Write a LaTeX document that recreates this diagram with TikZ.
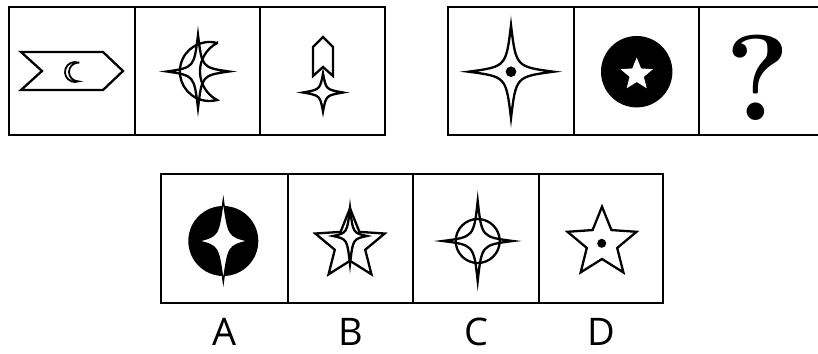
\documentclass[tikz,border=0pt]{standalone}
\usepackage{fontspec}
\newfontfamily\labelfont{Open Sans}
\usepackage{tikz}

\tikzset{
  frame/.style={line width=2.6pt},
  figure/.style={line width=2.3pt, line join=miter},
  % concave four-point star
  pics/sparkle/.style n args={3}{code={%
    \path[pic actions] (0,-#2) .. controls (#3,-#3) .. (#1,0)
      .. controls (#3,#3) .. (0,#2) .. controls (-#3,#3) .. (-#1,0)
      .. controls (-#3,-#3) .. (0,-#2) -- cycle;}},
  % five-point star, outer and inner radius
  pics/pentastar/.style 2 args={code={%
    \path[pic actions] (-90:#1) \foreach \k in {0,...,4}{
      -- ({-54+72*\k}:#2) -- ({-18+72*\k}:#1)} -- cycle;}},
}

\begin{document}
\begin{tikzpicture}[x=1pt, y=-1pt]
   \useasboundingbox (0,0) rectangle (818,353);

   % question row, left group
   \draw[frame] (9,7) rectangle (385,135);
   \foreach \x in {135,260}
   \draw[frame] (\x,7) -- (\x,135);

   \draw[figure] (21,52) -- (103,52) -- (123,71) -- (103,90) -- (21,90) -- (42,71) -- cycle;
   \draw[line width=1.8pt] (78.4,62.6) arc[start angle=-70, end angle=-290, radius=10]
      arc[start angle=90, end angle=270, radius=9.4] -- cycle;

   \pic[figure, draw] at (198,71.5) {sparkle={31}{36.5}{4}};
   \draw[figure] (217,43) arc[start angle=-75, end angle=-285, radius=29.5]
      arc[start angle=118.4, end angle=241.6, radius=32.4] -- cycle;

   \draw[figure] (323,37) -- (333,47) -- (333,76) -- (323,67) -- (313,76) -- (313,47) -- cycle;
   \pic[figure, draw] at (323,92.5) {sparkle={20}{19}{3}};

   % question row, right group (runs off the page)
   \draw[frame] (448,7) rectangle (826,135);
   \foreach \x in {574,699}
   \draw[frame] (\x,7) -- (\x,135);

   \pic[figure, draw] at (511,71.7) {sparkle={42.5}{46.5}{5}};
   \fill (511,71.7) circle[radius=5.3];

   \fill (636.7,71.7) circle[radius=35.7];
   \pic[fill=white] at (636.7,74.5) {pentastar={17}{7.5}};

   \node (qmark) at (758,120) [anchor=base, inner sep=0pt,
      font=\bfseries\fontsize{122}{122}\selectfont] {?};

   % answer row
   \draw[frame] (161,174) rectangle (663,303);
   \foreach \x in {288,413,539}
   \draw[frame] (\x,174) -- (\x,303);

   \fill (223.3,241) circle[radius=35];
   \pic[line width=1.4pt, draw, fill=white] at (223.3,241) {sparkle={25}{41}{5}};

   \pic[figure, draw] at (350,244.8) {pentastar={36.5}{16}};
   \pic[figure, draw] at (350,236) {sparkle={17}{28}{3}};

   \pic[figure, draw] at (477.7,241) {sparkle={35}{40}{4}};
   \draw[figure] (477.7,241) circle[radius=22];

   \pic[figure, draw] at (602,243) {pentastar={36.3}{16}};
   \fill (601.7,243.3) circle[radius=4.5];

   \foreach \opt/\x in {A/224.5,B/350.5,C/476,D/601}
   \node (label\opt) at (\x,332) [inner sep=0pt, font=\labelfont\fontsize{38}{38}\selectfont] {\opt};
\end{tikzpicture}
\end{document}
